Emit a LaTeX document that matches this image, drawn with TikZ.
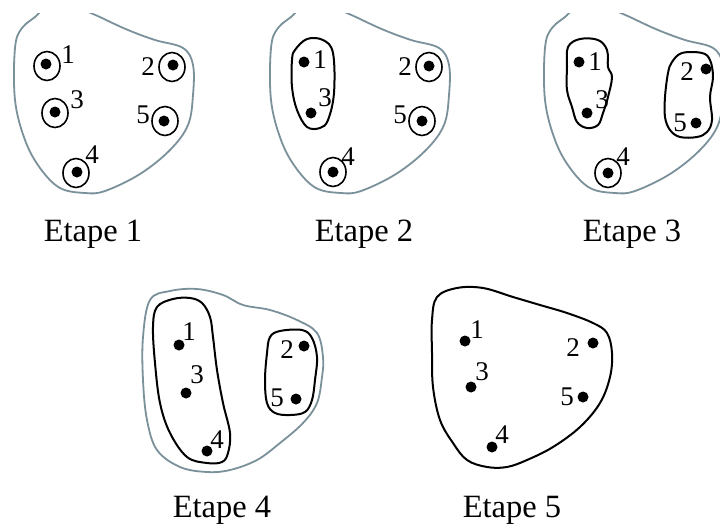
\documentclass[tikz,border=0pt]{standalone}
\usepackage{fontspec}
\setmainfont{Liberation Serif}
\usetikzlibrary{shapes.geometric}
\definecolor{outl}{RGB}{122,145,155}
\begin{document}
\begin{tikzpicture}[x=1pt,y=-1pt,
  dot/.style={circle,fill=black,inner sep=0pt,minimum size=11pt},
  ring/.style={ellipse,draw,line width=1.6pt,inner sep=0pt,minimum width=26pt,minimum height=29pt},
  num/.style={font=\fontsize{27}{31}\selectfont,inner sep=0pt},
  steplabel/.style={font=\fontsize{32.5}{36}\selectfont,anchor=base,inner sep=0pt},
  outer/.style={draw=outl,line width=1.8pt},
  grp/.style={draw,line width=2pt}]
\useasboundingbox (0,0) rectangle (720,525);
\fill[white] (0,0) rectangle (720,525);
% top-row outer outlines (cut at the top)
\begin{scope}
\clip (0,13) rectangle (720,525);
\foreach \dx in {0,256,530}{
\draw[outer,shift={(\dx,0)}] plot[smooth cycle,tension=0.6] coordinates {(50,-8) (39,13) (22,28) (15,48) (15,100) (25,140) (40,168) (60,188) (85,193) (105,191) (140,174) (170,150) (188,125) (193,95) (193,65) (183,48) (155,40) (128,30) (102,18) (78,6) (66,-10)};
}
\end{scope}
% ---------- Etape 1 ----------
\node[dot] (a1) at (46,64) {};
\node[dot] (a2) at (173,65) {};
\node[dot] (a3) at (55,112) {};
\node[dot] (a5) at (164,121) {};
\node[dot] (a4) at (77,172) {};
\node[ring] (ra1) at (47,66) {};
\node[ring] (ra2) at (172,67) {};
\node[ring] (ra3) at (55,113) {};
\node[ring] (ra5) at (165,121) {};
\node[ring] (ra4) at (76,173) {};
\node[num] (la1) at (68,55) {1};
\node[num] (la3) at (77,100) {3};
\node[num] (la2) at (148,67) {2};
\node[num] (la5) at (143,115) {5};
\node[num] (la4) at (92,155) {4};
\node[steplabel] (ea) at (93,241) {Etape 1};
% ---------- Etape 2 ----------
\begin{scope}[shift={(256,0)}]
\draw[grp] plot[smooth cycle,tension=0.6] coordinates {(39,50) (51,39) (67,40) (77,53) (78,93) (72,120) (64,128) (51,127) (41,110) (36,87) (36,60)};
\node[dot] (b1) at (48,62) {};
\node[dot] (b3) at (55,113) {};
\node[dot] (b2) at (173,66) {};
\node[dot] (b5) at (166,121) {};
\node[dot] (b4) at (77,172) {};
\node[ring] (rb2) at (173,67) {};
\node[ring] (rb5) at (166,121) {};
\node[ring] (rb4) at (77,172) {};
\node[num] (lb1) at (64,60) {1};
\node[num] (lb3) at (69,98) {3};
\node[num] (lb2) at (149,67) {2};
\node[num] (lb5) at (144,115) {5};
\node[num] (lb4) at (92,157) {4};
\end{scope}
\node[steplabel] (eb) at (364,241) {Etape 2};
% ---------- Etape 3 ----------
\begin{scope}[shift={(530,0)}]
\draw[grp] plot[smooth cycle,tension=0.6] coordinates {(38,47) (50,39) (68,40) (77,50) (78,67) (82,77) (78,97) (73,113) (68,125) (57,128) (47,122) (42,107) (37,90) (37,67)};
\draw[grp] plot[smooth cycle,tension=0.6] coordinates {(142,62) (152,53) (172,53) (180,60) (183,77) (180,97) (182,120) (177,132) (167,137) (150,137) (140,130) (135,117) (135,97) (138,73)};
\node[dot] (c1) at (49,62) {};
\node[dot] (c3) at (57,113) {};
\node[dot] (c2) at (176,69) {};
\node[dot] (c5) at (166,123) {};
\node[dot] (c4) at (78,173) {};
\node[ring] (rc4) at (78,173) {};
\node[num] (lc1) at (65,62) {1};
\node[num] (lc3) at (72,100) {3};
\node[num] (lc2) at (157,72) {2};
\node[num] (lc5) at (150,123) {5};
\node[num] (lc4) at (93,157) {4};
\end{scope}
\node[steplabel] (ec) at (632,241) {Etape 3};
% ---------- Etape 4 ----------
\draw[outer] plot[smooth cycle,tension=0.6] coordinates {(150,300) (170,291) (197,289) (223,295) (243,305) (270,310) (297,320) (317,333) (323,357) (322,377) (317,403) (303,423) (280,443) (257,460) (230,470) (207,472) (180,467) (157,450) (147,420) (143,380) (143,337)};
\draw[grp] plot[smooth cycle,tension=0.6] coordinates {(157,307) (173,299) (190,298) (202,303) (210,317) (213,337) (217,370) (223,403) (230,433) (228,453) (222,462) (207,463) (187,457) (170,433) (160,403) (155,363) (153,327)};
\draw[grp] plot[smooth cycle,tension=0.6] coordinates {(270,337) (280,331) (302,330) (312,338) (317,357) (315,380) (312,400) (305,412) (290,415) (275,413) (267,403) (265,380) (267,353)};
\node[dot] (d1) at (179,345) {};
\node[dot] (d3) at (186,393) {};
\node[dot] (d4) at (207,451) {};
\node[dot] (d2) at (304,346) {};
\node[dot] (d5) at (296,399) {};
\node[num] (ld1) at (189,332) {1};
\node[num] (ld3) at (197,375) {3};
\node[num] (ld4) at (217,440) {4};
\node[num] (ld2) at (287,350) {2};
\node[num] (ld5) at (277,398) {5};
\node[steplabel] (ed) at (222,517) {Etape 4};
% ---------- Etape 5 ----------
\draw[grp] plot[smooth cycle,tension=0.6] coordinates {(437,297) (457,288) (483,288) (513,297) (540,305) (567,313) (593,323) (607,333) (612,353) (610,377) (600,403) (580,427) (553,447) (527,460) (507,467) (487,467) (467,460) (453,443) (440,420) (433,387) (432,353) (432,320)};
\node[dot] (e1) at (465,341) {};
\node[dot] (e3) at (471,387) {};
\node[dot] (e4) at (492,447) {};
\node[dot] (e2) at (593,343) {};
\node[dot] (e5) at (583,397) {};
\node[num] (le1) at (477,330) {1};
\node[num] (le3) at (482,372) {3};
\node[num] (le4) at (502,435) {4};
\node[num] (le2) at (573,348) {2};
\node[num] (le5) at (567,397) {5};
\node[steplabel] (ee) at (512,517) {Etape 5};
\end{tikzpicture}
\end{document}
